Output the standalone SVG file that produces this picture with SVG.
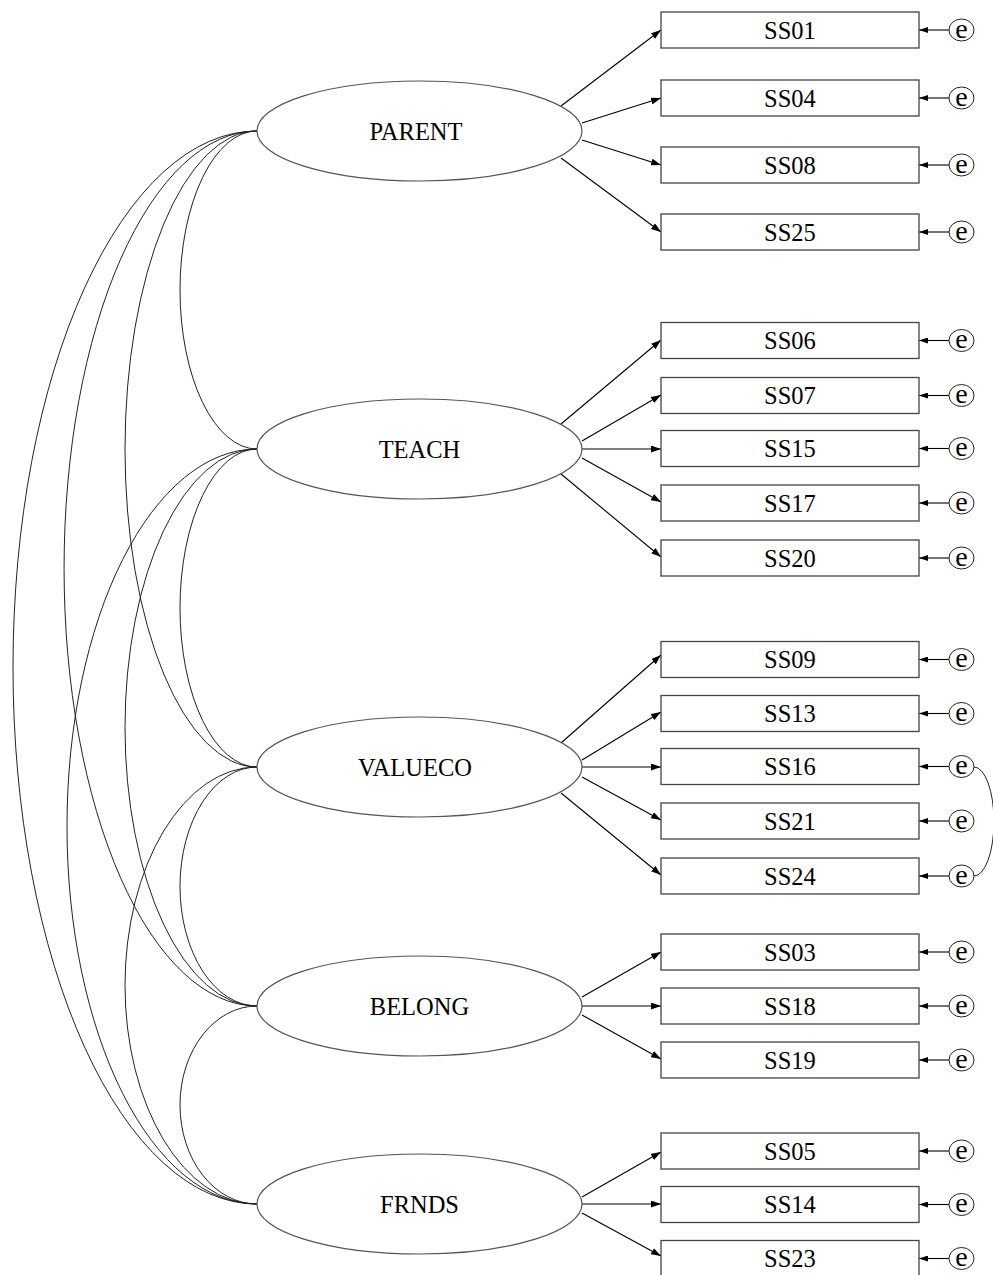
<svg xmlns="http://www.w3.org/2000/svg" width="993" height="1275" viewBox="0 0 993 1275">
<style>
.lat{fill:#fff;stroke:#555;stroke-width:1.2}
.obs{fill:#fff;stroke:#444;stroke-width:1.3}
.err{fill:#fff;stroke:#222;stroke-width:1}
.t{font-family:"Liberation Serif","Times New Roman",serif;font-size:24.5px;fill:#000;text-anchor:middle}
.te{font-family:"Liberation Serif","Times New Roman",serif;font-size:28px;fill:#000;text-anchor:middle}
.ln{stroke:#000;stroke-width:1.1;fill:none}
.cv{stroke:#222;stroke-width:1;fill:none}
</style>
<defs>
<marker id="ah" viewBox="0 0 10 7" refX="10" refY="3.5" markerWidth="10" markerHeight="7" orient="auto" markerUnits="userSpaceOnUse"><path d="M0,0 L10,3.5 L0,7 z" fill="#000"/></marker>
<marker id="ahs" viewBox="0 0 9 6" refX="9" refY="3" markerWidth="9" markerHeight="6" orient="auto" markerUnits="userSpaceOnUse"><path d="M0,0 L9,3 L0,6 z" fill="#000"/></marker>
</defs>
<rect width="993" height="1275" fill="#fff"/>
<g id="connectors">
<path class="cv" d="M257,131 A77,159 0 0 0 257,449"/>
<path class="cv" d="M257,131 A132,318 0 0 0 257,767"/>
<path class="cv" d="M257,131 A193,437.5 0 0 0 257,1006"/>
<path class="cv" d="M257,131 A244,536.5 0 0 0 257,1204"/>
<path class="cv" d="M257,449 A77,159 0 0 0 257,767"/>
<path class="cv" d="M257,449 A132,278.5 0 0 0 257,1006"/>
<path class="cv" d="M257,449 A190,377.5 0 0 0 257,1204"/>
<path class="cv" d="M257,767 A77,119.5 0 0 0 257,1006"/>
<path class="cv" d="M257,767 A132,218.5 0 0 0 257,1204"/>
<path class="cv" d="M257,1006 A77,99 0 0 0 257,1204"/>
<path class="cv" d="M974,767 A20,54.5 0 0 1 974,876"/>
<g marker-end="url(#ah)">
<line class="ln" x1="561" y1="106" x2="661" y2="30"/>
<line class="ln" x1="582" y1="123" x2="661" y2="98"/>
<line class="ln" x1="582" y1="140" x2="661" y2="165"/>
<line class="ln" x1="561" y1="158" x2="661" y2="232"/>
<line class="ln" x1="561" y1="424" x2="661" y2="340"/>
<line class="ln" x1="582" y1="441" x2="661" y2="395"/>
<line class="ln" x1="582" y1="449" x2="661" y2="449"/>
<line class="ln" x1="582" y1="458" x2="661" y2="502"/>
<line class="ln" x1="561" y1="474" x2="661" y2="557"/>
<line class="ln" x1="561" y1="743" x2="661" y2="655"/>
<line class="ln" x1="582" y1="760" x2="661" y2="712"/>
<line class="ln" x1="582" y1="767" x2="661" y2="767"/>
<line class="ln" x1="582" y1="777" x2="661" y2="820"/>
<line class="ln" x1="561" y1="793" x2="661" y2="875"/>
<line class="ln" x1="582" y1="997" x2="661" y2="952"/>
<line class="ln" x1="582" y1="1006" x2="661" y2="1006"/>
<line class="ln" x1="582" y1="1015" x2="661" y2="1059"/>
<line class="ln" x1="582" y1="1197" x2="661" y2="1152"/>
<line class="ln" x1="582" y1="1204" x2="661" y2="1204"/>
<line class="ln" x1="582" y1="1213" x2="661" y2="1256"/>
</g>
<g marker-end="url(#ahs)">
<line class="ln" x1="949" y1="30" x2="919" y2="30"/>
<line class="ln" x1="949" y1="98" x2="919" y2="98"/>
<line class="ln" x1="949" y1="165" x2="919" y2="165"/>
<line class="ln" x1="949" y1="232" x2="919" y2="232"/>
<line class="ln" x1="949" y1="340.5" x2="919" y2="340.5"/>
<line class="ln" x1="949" y1="395.5" x2="919" y2="395.5"/>
<line class="ln" x1="949" y1="448.5" x2="919" y2="448.5"/>
<line class="ln" x1="949" y1="503" x2="919" y2="503"/>
<line class="ln" x1="949" y1="558" x2="919" y2="558"/>
<line class="ln" x1="949" y1="659.5" x2="919" y2="659.5"/>
<line class="ln" x1="949" y1="713.5" x2="919" y2="713.5"/>
<line class="ln" x1="949" y1="766.5" x2="919" y2="766.5"/>
<line class="ln" x1="949" y1="821" x2="919" y2="821"/>
<line class="ln" x1="949" y1="876" x2="919" y2="876"/>
<line class="ln" x1="949" y1="952" x2="919" y2="952"/>
<line class="ln" x1="949" y1="1006" x2="919" y2="1006"/>
<line class="ln" x1="949" y1="1060" x2="919" y2="1060"/>
<line class="ln" x1="949" y1="1151" x2="919" y2="1151"/>
<line class="ln" x1="949" y1="1204.5" x2="919" y2="1204.5"/>
<line class="ln" x1="949" y1="1258.5" x2="919" y2="1258.5"/>
</g>
</g>
<g id="PARENT"><ellipse class="lat" cx="419.5" cy="131" rx="162.5" ry="50"/><text class="t" x="416" y="140">PARENT</text></g>
<g id="TEACH"><ellipse class="lat" cx="419.5" cy="449" rx="162.5" ry="50"/><text class="t" x="419.5" y="458">TEACH</text></g>
<g id="VALUECO"><ellipse class="lat" cx="419.5" cy="767" rx="162.5" ry="50"/><text class="t" x="415" y="776">VALUECO</text></g>
<g id="BELONG"><ellipse class="lat" cx="419.5" cy="1006" rx="162.5" ry="50"/><text class="t" x="419.5" y="1015">BELONG</text></g>
<g id="FRNDS"><ellipse class="lat" cx="419.5" cy="1204" rx="162.5" ry="50"/><text class="t" x="419.5" y="1213">FRNDS</text></g>
<g id="SS01"><rect class="obs" x="661" y="12" width="258" height="36"/><text class="t" x="790" y="38.5">SS01</text></g>
<g id="SS04"><rect class="obs" x="661" y="80" width="258" height="36"/><text class="t" x="790" y="106.5">SS04</text></g>
<g id="SS08"><rect class="obs" x="661" y="147" width="258" height="36"/><text class="t" x="790" y="173.5">SS08</text></g>
<g id="SS25"><rect class="obs" x="661" y="214" width="258" height="36"/><text class="t" x="790" y="240.5">SS25</text></g>
<g id="SS06"><rect class="obs" x="661" y="322.5" width="258" height="36"/><text class="t" x="790" y="349">SS06</text></g>
<g id="SS07"><rect class="obs" x="661" y="377.5" width="258" height="36"/><text class="t" x="790" y="404">SS07</text></g>
<g id="SS15"><rect class="obs" x="661" y="430.5" width="258" height="36"/><text class="t" x="790" y="457">SS15</text></g>
<g id="SS17"><rect class="obs" x="661" y="485" width="258" height="36"/><text class="t" x="790" y="511.5">SS17</text></g>
<g id="SS20"><rect class="obs" x="661" y="540" width="258" height="36"/><text class="t" x="790" y="566.5">SS20</text></g>
<g id="SS09"><rect class="obs" x="661" y="641.5" width="258" height="36"/><text class="t" x="790" y="668">SS09</text></g>
<g id="SS13"><rect class="obs" x="661" y="695.5" width="258" height="36"/><text class="t" x="790" y="722">SS13</text></g>
<g id="SS16"><rect class="obs" x="661" y="748.5" width="258" height="36"/><text class="t" x="790" y="775">SS16</text></g>
<g id="SS21"><rect class="obs" x="661" y="803" width="258" height="36"/><text class="t" x="790" y="829.5">SS21</text></g>
<g id="SS24"><rect class="obs" x="661" y="858" width="258" height="36"/><text class="t" x="790" y="884.5">SS24</text></g>
<g id="SS03"><rect class="obs" x="661" y="934" width="258" height="36"/><text class="t" x="790" y="960.5">SS03</text></g>
<g id="SS18"><rect class="obs" x="661" y="988" width="258" height="36"/><text class="t" x="790" y="1014.5">SS18</text></g>
<g id="SS19"><rect class="obs" x="661" y="1042" width="258" height="36"/><text class="t" x="790" y="1068.5">SS19</text></g>
<g id="SS05"><rect class="obs" x="661" y="1133" width="258" height="36"/><text class="t" x="790" y="1159.5">SS05</text></g>
<g id="SS14"><rect class="obs" x="661" y="1186.5" width="258" height="36"/><text class="t" x="790" y="1213">SS14</text></g>
<g id="SS23"><rect class="obs" x="661" y="1240.5" width="258" height="36"/><text class="t" x="790" y="1267">SS23</text></g>
<g id="e_SS01"><ellipse class="err" cx="961.5" cy="30" rx="12.5" ry="11"/><text class="te" x="961.5" y="37.5">e</text></g>
<g id="e_SS04"><ellipse class="err" cx="961.5" cy="98" rx="12.5" ry="11"/><text class="te" x="961.5" y="105.5">e</text></g>
<g id="e_SS08"><ellipse class="err" cx="961.5" cy="165" rx="12.5" ry="11"/><text class="te" x="961.5" y="172.5">e</text></g>
<g id="e_SS25"><ellipse class="err" cx="961.5" cy="232" rx="12.5" ry="11"/><text class="te" x="961.5" y="239.5">e</text></g>
<g id="e_SS06"><ellipse class="err" cx="961.5" cy="340.5" rx="12.5" ry="11"/><text class="te" x="961.5" y="348">e</text></g>
<g id="e_SS07"><ellipse class="err" cx="961.5" cy="395.5" rx="12.5" ry="11"/><text class="te" x="961.5" y="403">e</text></g>
<g id="e_SS15"><ellipse class="err" cx="961.5" cy="448.5" rx="12.5" ry="11"/><text class="te" x="961.5" y="456">e</text></g>
<g id="e_SS17"><ellipse class="err" cx="961.5" cy="503" rx="12.5" ry="11"/><text class="te" x="961.5" y="510.5">e</text></g>
<g id="e_SS20"><ellipse class="err" cx="961.5" cy="558" rx="12.5" ry="11"/><text class="te" x="961.5" y="565.5">e</text></g>
<g id="e_SS09"><ellipse class="err" cx="961.5" cy="659.5" rx="12.5" ry="11"/><text class="te" x="961.5" y="667">e</text></g>
<g id="e_SS13"><ellipse class="err" cx="961.5" cy="713.5" rx="12.5" ry="11"/><text class="te" x="961.5" y="721">e</text></g>
<g id="e_SS16"><ellipse class="err" cx="961.5" cy="766.5" rx="12.5" ry="11"/><text class="te" x="961.5" y="774">e</text></g>
<g id="e_SS21"><ellipse class="err" cx="961.5" cy="821" rx="12.5" ry="11"/><text class="te" x="961.5" y="828.5">e</text></g>
<g id="e_SS24"><ellipse class="err" cx="961.5" cy="876" rx="12.5" ry="11"/><text class="te" x="961.5" y="883.5">e</text></g>
<g id="e_SS03"><ellipse class="err" cx="961.5" cy="952" rx="12.5" ry="11"/><text class="te" x="961.5" y="959.5">e</text></g>
<g id="e_SS18"><ellipse class="err" cx="961.5" cy="1006" rx="12.5" ry="11"/><text class="te" x="961.5" y="1013.5">e</text></g>
<g id="e_SS19"><ellipse class="err" cx="961.5" cy="1060" rx="12.5" ry="11"/><text class="te" x="961.5" y="1067.5">e</text></g>
<g id="e_SS05"><ellipse class="err" cx="961.5" cy="1151" rx="12.5" ry="11"/><text class="te" x="961.5" y="1158.5">e</text></g>
<g id="e_SS14"><ellipse class="err" cx="961.5" cy="1204.5" rx="12.5" ry="11"/><text class="te" x="961.5" y="1212">e</text></g>
<g id="e_SS23"><ellipse class="err" cx="961.5" cy="1258.5" rx="12.5" ry="11"/><text class="te" x="961.5" y="1266">e</text></g>
</svg>
